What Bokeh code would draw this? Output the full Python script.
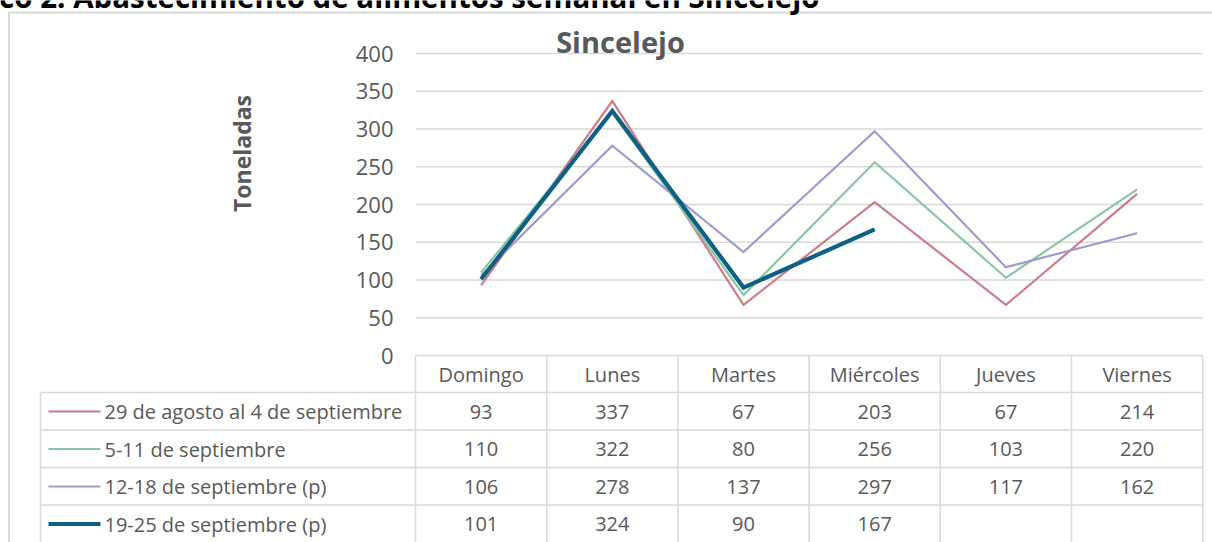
import numpy as np
from bokeh.plotting import figure
from bokeh.models import Range1d
from bokeh.core.properties import value
from bokeh.embed import file_html
from bokeh.resources import INLINE

# ---------------- data ----------------
days = ["Domingo", "Lunes", "Martes", "Miércoles", "Jueves", "Viernes"]
series_names = [
    "29 de agosto al 4 de septiembre",
    "5-11 de septiembre",
    "12-18 de septiembre (p)",
    "19-25 de septiembre (p)",
]
s_aug29 = [93, 337, 67, 203, 67, 214]
s_sep05 = [110, 322, 80, 256, 103, 220]
s_sep12 = [106, 278, 137, 297, 117, 162]
s_sep19 = [101, 324, 90, 167, None, None]
y_ticks = [0, 50, 100, 150, 200, 250, 300, 350, 400]
y_tick_labels = [str(t) for t in y_ticks]
chart_title = "Sincelejo"
y_label = "Toneladas"
page_title = "Gráfico 2. Abastecimiento de alimentos semanal en Sincelejo"

series_values = [s_aug29, s_sep05, s_sep12, s_sep19]

# ---------------- styles / layout (pixels) ----------------
colors = ["#CD7D88", "#8DC5A4", "#A19BCC", "#0E6184"]
widths = [2.2, 2.2, 2.2, 4.2]
FONT = "Open Sans"
TXT = "#595959"
GRID = "#D9D9D9"

W, H = 1212, 542
OX, OY = 0, 0
plot_left = 415.0
col_w = 131.2
y0_px, ymax_px = 355.0, 53.0
k = (y0_px - ymax_px) / 400.0


def X(px):
    return (px - plot_left) / col_w


def Y(py):
    return (y0_px - py) / k


p = figure(
    width=W, height=H,
    x_range=Range1d(X(OX), X(OX + W)),
    y_range=Range1d(Y(OY + H), Y(OY)),
    output_backend="svg", toolbar_location=None,
    x_axis_location=None, y_axis_location=None,
    min_border=0, outline_line_color=None,
)
p.grid.visible = False
p.background_fill_color = "white"
p.border_fill_color = "white"

ncol = len(days)

# outer chart border
p.segment(x0=[X(8), X(8.5)], x1=[X(OX + W), X(8.5)],
          y0=[Y(12), Y(12)], y1=[Y(12), Y(OY + H)],
          line_color=GRID, line_width=2)

# horizontal gridlines
p.segment(x0=[0] * len(y_ticks), x1=[ncol] * len(y_ticks), y0=y_ticks, y1=y_ticks,
          line_color=GRID, line_width=1.5)

# table structure
row_lines = [392.0, 429.5, 467.0, 504.5]
p.segment(x0=[X(40)] * len(row_lines), x1=[ncol] * len(row_lines),
          y0=[Y(r) for r in row_lines], y1=[Y(r) for r in row_lines],
          line_color=GRID, line_width=1.5)
vx = list(range(ncol + 1))
p.segment(x0=vx, x1=vx, y0=[0] * len(vx), y1=[Y(OY + H)] * len(vx),
          line_color=GRID, line_width=1.5)
p.segment(x0=[X(40)], x1=[X(40)], y0=[Y(392)], y1=[Y(OY + H)],
          line_color=GRID, line_width=1.5)

# lines
xs = [i + 0.5 for i in range(ncol)]
for vals, c, w in zip(series_values, colors, widths):
    yv = [np.nan if v is None else v for v in vals]
    p.line(xs, yv, line_color=c, line_width=w, line_join="miter")

# header row
p.text(x=xs, y=[Y(374)] * ncol, text=days, text_font=value(FONT),
       text_font_size="20px", text_color=TXT, text_align="center",
       text_baseline="middle")

# data rows
row_centers = [411.0, 448.5, 486.0, 523.5]
for vals, name, c, w, rc in zip(series_values, series_names, colors, widths, row_centers):
    cx = [xs[j] for j, v in enumerate(vals) if v is not None]
    ct = [str(v) for v in vals if v is not None]
    p.text(x=cx, y=[Y(rc)] * len(cx), text=ct, text_font=value(FONT),
           text_font_size="20px", text_color=TXT, text_align="center",
           text_baseline="middle")
    p.segment(x0=[X(48)], x1=[X(100)], y0=[Y(rc)], y1=[Y(rc)],
              line_color=c, line_width=w)
    p.text(x=[X(104)], y=[Y(rc)], text=[name], text_font=value(FONT),
           text_font_size="20px", text_color=TXT, text_align="left",
           text_baseline="middle")

# y tick labels
p.text(x=[X(393)] * len(y_ticks), y=y_ticks, text=y_tick_labels,
       text_font=value(FONT), text_font_size="22px", text_color=TXT,
       text_align="right", text_baseline="middle")

# y axis title
p.text(x=[X(241)], y=[Y(153)], text=[y_label], angle=np.pi / 2,
       text_font=value(FONT), text_font_size="23px", text_font_style="bold",
       text_color=TXT, text_align="center", text_baseline="middle")

# chart title
p.text(x=[X(620)], y=[Y(41)], text=[chart_title], text_font=value(FONT),
       text_font_size="29px", text_font_style="bold", text_color=TXT,
       text_align="center", text_baseline="middle")

# page title (cut off at the top edge, as in the reference)
p.text(x=[X(819)], y=[Y(-4)], text=[page_title], text_font=value(FONT),
       text_font_size="29.5px", text_font_style="bold", text_color="black",
       text_align="right", text_baseline="alphabetic")

open("out.html", "w").write(file_html(p, INLINE))
